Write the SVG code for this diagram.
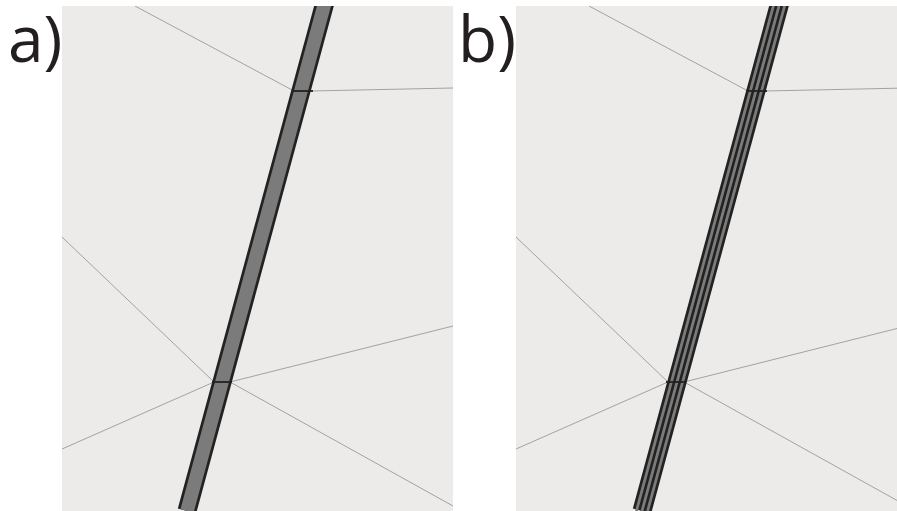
<svg xmlns="http://www.w3.org/2000/svg" width="897" height="511" viewBox="0 0 897 511">
<style>
.panel{fill:#edebe9}
.thin{stroke:#9a9a9a;stroke-width:0.9;fill:none}
.lbl{font-family:"Open Sans","Liberation Sans",sans-serif;font-size:64px;fill:#231f20}
.dark{stroke:#222;fill:none}
.gray{stroke:#7b7b7b;fill:none}
.bar{stroke:#222;stroke-width:1.8}
</style>
<defs>
<clipPath id="ca"><rect x="62" y="6" width="391" height="505"/></clipPath>
<clipPath id="cb"><rect x="516" y="6" width="381" height="505"/></clipPath>
</defs>
<rect width="897" height="511" fill="#fff"/>
<g id="panel-a">
<rect class="panel" x="62" y="6" width="391" height="505"/>
<g clip-path="url(#ca)">
<g id="edges-a">
<line class="thin" x1="135" y1="6" x2="294" y2="91"/>
<line class="thin" x1="311" y1="91" x2="453" y2="88"/>
<line class="thin" x1="62" y1="237" x2="214" y2="382"/>
<line class="thin" x1="62" y1="449" x2="214" y2="382"/>
<line class="thin" x1="230" y1="382" x2="453" y2="326"/>
<line class="thin" x1="230" y1="382" x2="453" y2="506"/>
</g>
<g id="strip-a">
<line class="dark" stroke-width="19" x1="325.6" y1="0" x2="187" y2="511"/>
<line class="gray" stroke-width="13.6" x1="325.6" y1="0" x2="187" y2="511"/>
<line class="bar" x1="292" y1="91" x2="313" y2="91"/>
<line class="bar" x1="212" y1="382" x2="232" y2="382"/>
</g>
</g>
<text class="lbl" x="8" y="62">a)</text>
</g>
<g id="panel-b">
<rect class="panel" x="516" y="6" width="381" height="505"/>
<g clip-path="url(#cb)">
<g id="edges-b">
<line class="thin" x1="589" y1="6" x2="748" y2="91"/>
<line class="thin" x1="765" y1="91" x2="907" y2="88"/>
<line class="thin" x1="516" y1="237" x2="668" y2="382"/>
<line class="thin" x1="516" y1="449" x2="668" y2="382"/>
<line class="thin" x1="684" y1="382" x2="907" y2="326"/>
<line class="thin" x1="684" y1="382" x2="907" y2="506"/>
</g>
<g id="strip-b">
<line class="dark" stroke-width="19" x1="780.6" y1="0" x2="642" y2="511"/>
<line class="gray" stroke-width="2.8" x1="775" y1="0" x2="636.4" y2="511"/>
<line class="gray" stroke-width="2.8" x1="780.6" y1="0" x2="642" y2="511"/>
<line class="gray" stroke-width="2.8" x1="786.2" y1="0" x2="647.6" y2="511"/>
<line class="bar" x1="746" y1="91" x2="767" y2="91"/>
<line class="bar" x1="666" y1="382" x2="686" y2="382"/>
</g>
</g>
<text class="lbl" x="458" y="62">b)</text>
</g>
</svg>
